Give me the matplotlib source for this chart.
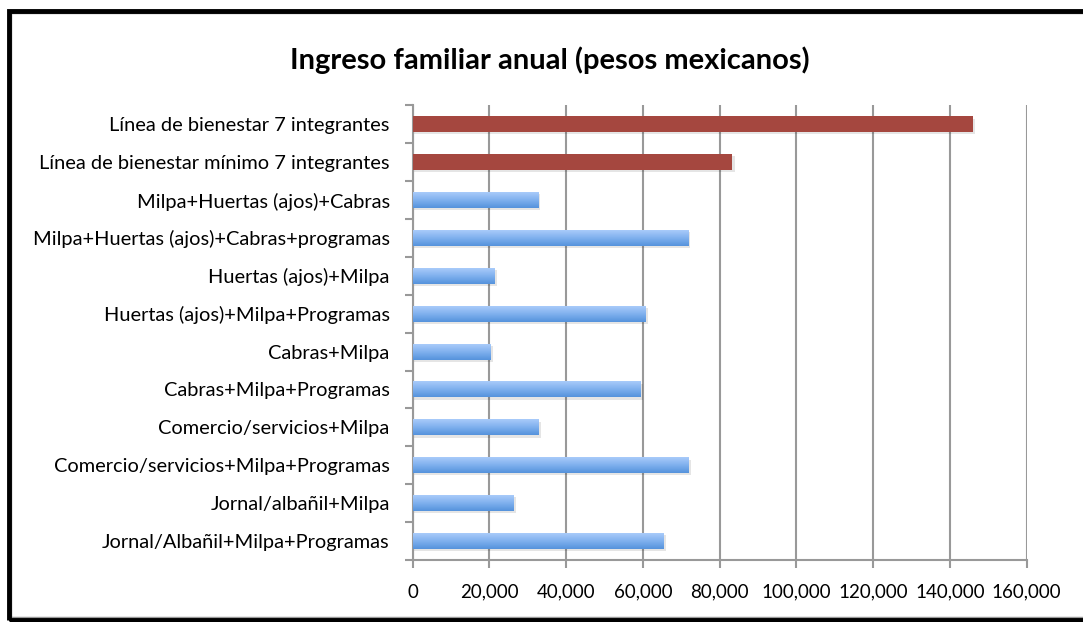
import numpy as np
import matplotlib.pyplot as plt
from matplotlib.patches import Rectangle
from matplotlib.ticker import FuncFormatter

categorias = [
    "Línea de bienestar 7 integrantes",
    "Línea de bienestar mínimo 7 integrantes",
    "Milpa+Huertas (ajos)+Cabras",
    "Milpa+Huertas (ajos)+Cabras+programas",
    "Huertas (ajos)+Milpa",
    "Huertas (ajos)+Milpa+Programas",
    "Cabras+Milpa",
    "Cabras+Milpa+Programas",
    "Comercio/servicios+Milpa",
    "Comercio/servicios+Milpa+Programas",
    "Jornal/albañil+Milpa",
    "Jornal/Albañil+Milpa+Programas",
]
ingreso = [146000, 83300, 32700, 71800, 21300, 60700,
           20300, 59400, 32800, 71900, 26300, 65400]
es_linea = [True, True] + [False] * 10

plt.rcParams['font.family'] = ['Lato', 'DejaVu Sans']

fig = plt.figure(figsize=(10.83, 6.22), dpi=100)
ax = fig.add_axes([0.381, 0.0997, 0.567, 0.731])

n = len(categorias)
y = np.arange(n)
h = 0.42

# degradado azul para las barras normales
grad = np.linspace(0, 1, 64).reshape(-1, 1)
azul = plt.matplotlib.colors.LinearSegmentedColormap.from_list(
    "azul", ["#a9cbfa", "#7fb0ee", "#5593dc"])

for yi, val, linea in zip(y, ingreso, es_linea):
    # sombra
    ax.add_patch(Rectangle((0, yi - h / 2 + 0.06), val + 600, h,
                           facecolor="#000000", alpha=0.10, lw=0, zorder=2))
    if linea:
        ax.barh(yi, val, height=h, color="#a5473f", zorder=3)
    else:
        ax.imshow(grad, cmap=azul, aspect="auto", zorder=3,
                  extent=(0, val, yi + h / 2, yi - h / 2))

ax.set_xlim(0, 160000)
ax.set_ylim(n - 0.5, -0.5)

ax.set_xticks(np.arange(0, 160001, 20000))
ax.xaxis.set_major_formatter(FuncFormatter(lambda v, p: f"{int(v):,}"))
ax.set_yticks(y)
ax.set_yticklabels(categorias)
ax.set_yticks(np.arange(-0.5, n, 1), minor=True)

ax.tick_params(axis="y", which="major", length=0, pad=16.5, labelsize=14.4)
ax.tick_params(axis="y", which="minor", length=6, width=1.5, color="#999999")
ax.tick_params(axis="x", length=6, width=1.5, color="#999999",
               labelsize=13.5, pad=11)

ax.grid(axis="x", color="#999999", lw=1.5, zorder=1)
ax.set_axisbelow(True)
for s in ["top", "right"]:
    ax.spines[s].set_visible(False)
for s in ["left", "bottom"]:
    ax.spines[s].set_color("#999999")
    ax.spines[s].set_linewidth(1.5)

fig.text(0.508, 0.904, "Ingreso familiar anual (pesos mexicanos)",
         ha="center", va="center", fontsize=21, fontweight="bold")

# marco del grafico
fig.add_artist(Rectangle((0.009, 0.006), 1.2, 0.974, transform=fig.transFigure,
                         fill=False, edgecolor="#999999", lw=2.5))
fig.add_artist(Rectangle((0.0085, 0.004), 1.2, 0.978, transform=fig.transFigure,
                         fill=False, edgecolor="black", lw=3.5))

fig.savefig("out.png", dpi=100)
